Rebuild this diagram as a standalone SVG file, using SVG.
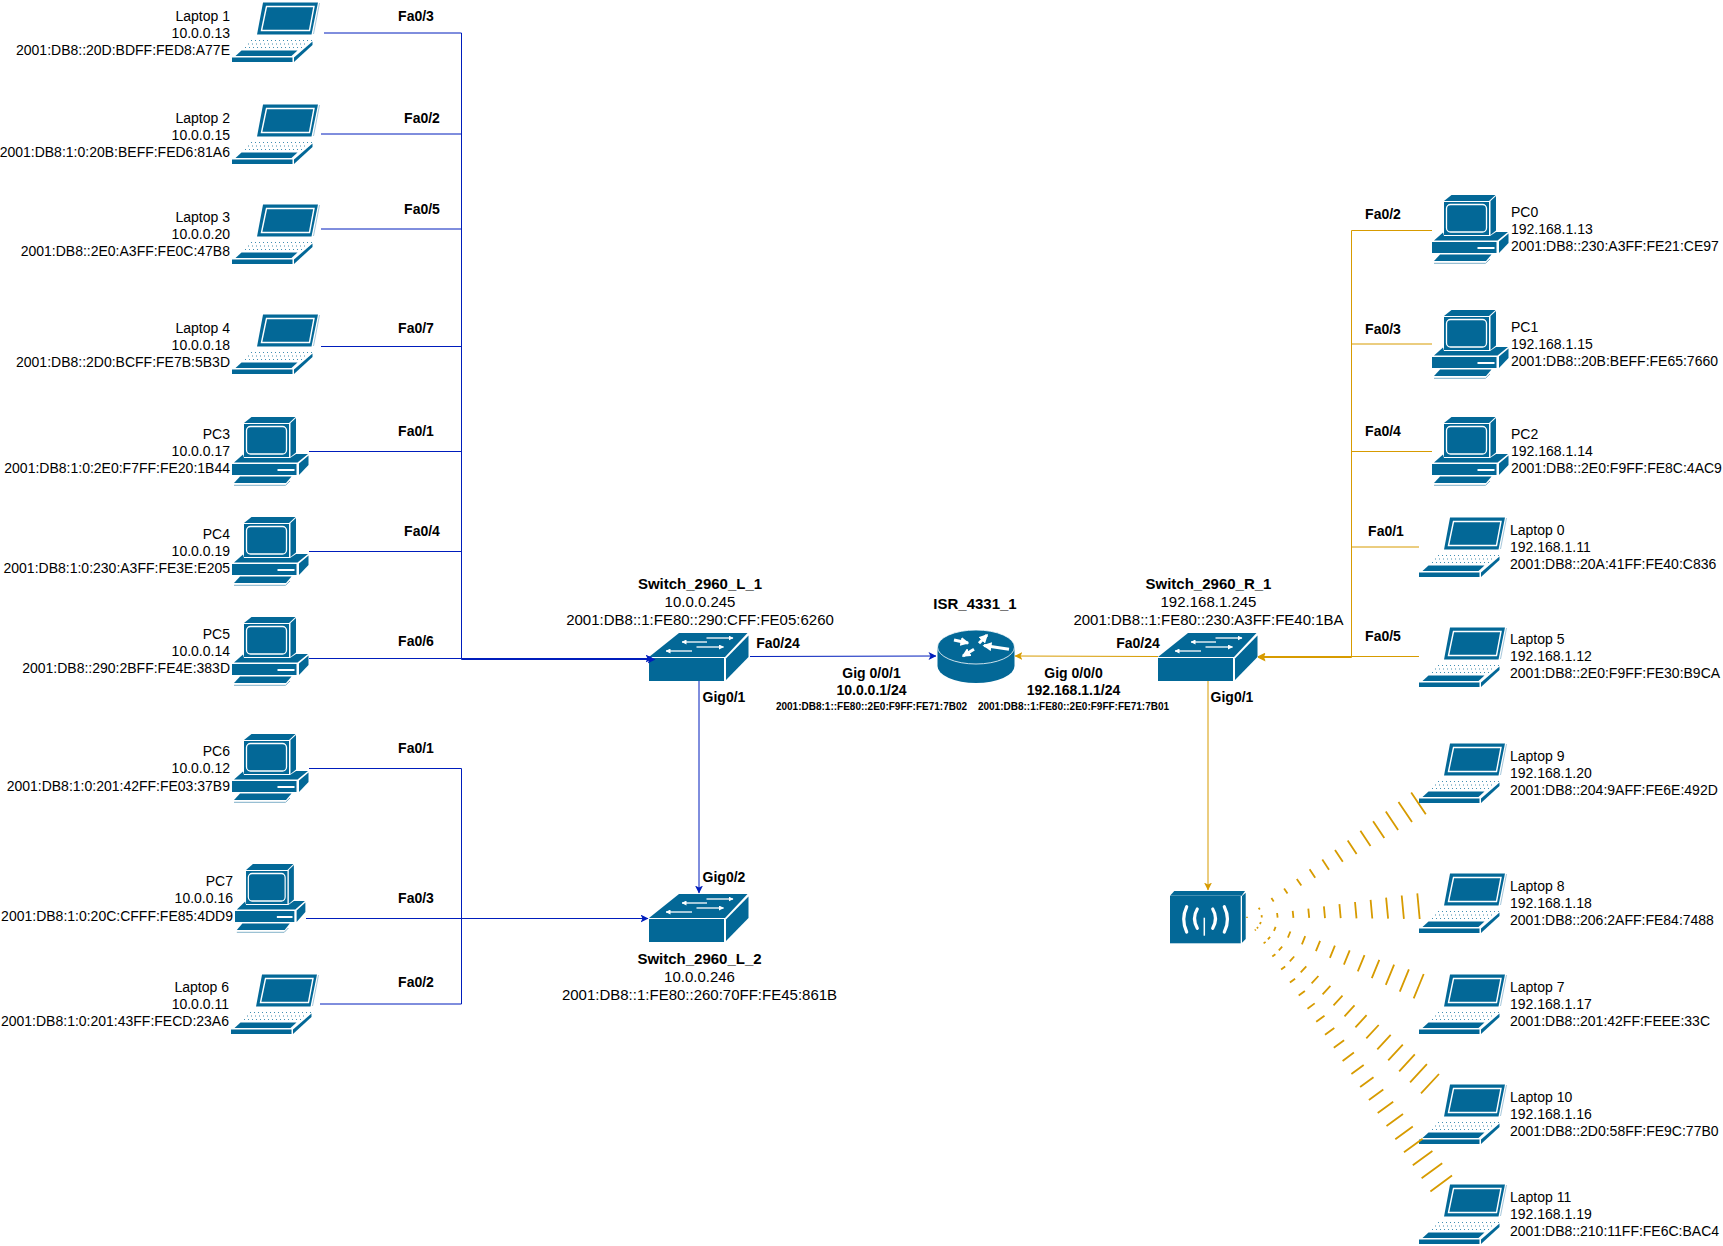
<svg xmlns="http://www.w3.org/2000/svg" width="1723" height="1246" viewBox="0 0 1723 1246">
<style>
text{font-family:"Liberation Sans",Arial,sans-serif;font-size:14px;fill:#000}
.b{font-weight:bold}
.r{text-anchor:end}
.c{text-anchor:middle}
.m{font-size:15px}
.s{font-size:10px}
.blue{fill:none;stroke:#001DBC;stroke-width:1}
.or{fill:none;stroke:#d79b00;stroke-width:1}
.tick{fill:none;stroke:#d79b00;stroke-width:1.8}
.d{fill:#036897}
</style>
<defs>
<marker id="ab" markerUnits="userSpaceOnUse" viewBox="0 0 8 8" markerWidth="8" markerHeight="8" refX="7.5" refY="4" orient="auto"><path d="M0 0L8 4L0 8L2 4Z" fill="#001DBC"/></marker>
<marker id="ao" markerUnits="userSpaceOnUse" viewBox="0 0 8 8" markerWidth="8" markerHeight="8" refX="7.5" refY="4" orient="auto"><path d="M0 0L8 4L0 8L2 4Z" fill="#d79b00"/></marker>
<marker id="aw" markerUnits="userSpaceOnUse" viewBox="0 0 6 6" markerWidth="9" markerHeight="9" refX="5" refY="3" orient="auto"><path d="M0 0L6 3L0 6Z" fill="#fff"/></marker>
<marker id="awl" markerUnits="userSpaceOnUse" viewBox="0 0 5 5" markerWidth="5" markerHeight="5" refX="4.5" refY="2.5" orient="auto"><path d="M0 0L5 2.5L0 5Z" fill="#fff"/></marker>
<g id="laptop">
<path class="d" d="M25 32.5L31 .5L86 .5L79.5 32.5Z"/>
<path d="M29.5 28.5L34.5 4.5L82 4.5L77.5 28.5Z" fill="#036897" stroke="#fff" stroke-width="1.4"/>
<path d="M87.5 1L81.5 32" fill="none" stroke="#8fb9d0" stroke-width=".8"/>
<g fill="none" stroke="#036897" stroke-opacity=".75" stroke-width="1" stroke-dasharray="1 3">
<path d="M19 38.5H80M16 42H76M13 45.500H72"/>
</g>
<path class="d" d="M9.500 48.500H65.500L59.500 54H3.500Z"/>
<rect class="d" x="0" y="55.500" width="60.500" height="4.500"/>
<path class="d" d="M62 55.500L80.500 39.500V43L62 60Z"/>
</g>
<g id="pc">
<path class="d" d="M12 6L19.500 0H63.500L57 6Z"/>
<rect class="d" x="12" y="7" width="45" height="33"/>
<rect x="14.500" y="9.500" width="40" height="27.500" rx="4" fill="#036897" stroke="#fff" stroke-width="1.300"/>
<path class="d" d="M58.500 6L64 1V35.500L58.500 40Z"/>
<path class="d" d="M2 45.500L11 37.500L12 41H58L64 37H76L65.500 45.500Z"/>
<rect class="d" x="0" y="47" width="64.500" height="11"/>
<rect x="45.500" y="52" width="17" height="2" fill="#fff"/>
<path class="d" d="M67 46.500L76.500 38.500V48L67 58Z"/>
<path class="d" d="M8 59.500H59.500L54 66H2Z"/>
<path d="M2 68.300H53.500L58 64" fill="none" stroke="#7fb0c8" stroke-width="1"/>
</g>
<g id="switch">
<path class="d" d="M0 24L30 0H98.500L76 24Z"/>
<rect class="d" x="0" y="25" width="75" height="23"/>
<path class="d" d="M77 25.500L99.500 2.500V24L77 47Z"/>
<g fill="none" stroke="#fff" stroke-width="1.300">
<path d="M57.500 5H84" marker-end="url(#awl)"/>
<path d="M58 9H33" marker-end="url(#awl)"/>
<path d="M47.500 14H74.500" marker-end="url(#awl)"/>
<path d="M43 18H17" marker-end="url(#awl)"/>
</g>
</g>
</defs>
<g id="laptop1"><use href="#laptop" x="232" y="2"/><text class="r" x="230" y="21">Laptop 1</text><text class="r" x="230" y="38">10.0.0.13</text><text class="r" x="230" y="55">2001:DB8::20D:BDFF:FED8:A77E</text></g>
<g id="laptop2"><use href="#laptop" x="232" y="104"/><text class="r" x="230" y="123">Laptop 2</text><text class="r" x="230" y="140">10.0.0.15</text><text class="r" x="230" y="157">2001:DB8:1:0:20B:BEFF:FED6:81A6</text></g>
<g id="laptop3"><use href="#laptop" x="232" y="204"/><text class="r" x="230" y="222">Laptop 3</text><text class="r" x="230" y="239">10.0.0.20</text><text class="r" x="230" y="256">2001:DB8::2E0:A3FF:FE0C:47B8</text></g>
<g id="laptop4"><use href="#laptop" x="232" y="314"/><text class="r" x="230" y="333">Laptop 4</text><text class="r" x="230" y="350">10.0.0.18</text><text class="r" x="230" y="367">2001:DB8::2D0:BCFF:FE7B:5B3D</text></g>
<g id="pc3"><use href="#pc" x="232" y="417"/><text class="r" x="230" y="439">PC3</text><text class="r" x="230" y="456">10.0.0.17</text><text class="r" x="230" y="473">2001:DB8:1:0:2E0:F7FF:FE20:1B44</text></g>
<g id="pc4"><use href="#pc" x="232" y="517"/><text class="r" x="230" y="539">PC4</text><text class="r" x="230" y="556">10.0.0.19</text><text class="r" x="230" y="573">2001:DB8:1:0:230:A3FF:FE3E:E205</text></g>
<g id="pc5"><use href="#pc" x="232" y="617"/><text class="r" x="230" y="639">PC5</text><text class="r" x="230" y="656">10.0.0.14</text><text class="r" x="230" y="673">2001:DB8::290:2BFF:FE4E:383D</text></g>
<g id="pc6"><use href="#pc" x="232" y="734"/><text class="r" x="230" y="756">PC6</text><text class="r" x="230" y="773">10.0.0.12</text><text class="r" x="230" y="791">2001:DB8:1:0:201:42FF:FE03:37B9</text></g>
<g id="pc7"><use href="#pc" transform="translate(235 864) scale(.92 1)"/><text class="r" x="233" y="886">PC7</text><text class="r" x="233" y="903">10.0.0.16</text><text class="r" x="233" y="921">2001:DB8:1:0:20C:CFFF:FE85:4DD9</text></g>
<g id="laptop6"><use href="#laptop" x="231" y="974"/><text class="r" x="229" y="992">Laptop 6</text><text class="r" x="229" y="1009">10.0.0.11</text><text class="r" x="229" y="1026">2001:DB8:1:0:201:43FF:FECD:23A6</text></g>
<g id="pc0"><use href="#pc" x="1432" y="195"/><text x="1511" y="217">PC0</text><text x="1511" y="234">192.168.1.13</text><text x="1511" y="251">2001:DB8::230:A3FF:FE21:CE97</text></g>
<g id="pc1"><use href="#pc" x="1432" y="310"/><text x="1511" y="332">PC1</text><text x="1511" y="349">192.168.1.15</text><text x="1511" y="366">2001:DB8::20B:BEFF:FE65:7660</text></g>
<g id="pc2"><use href="#pc" x="1432" y="417"/><text x="1511" y="439">PC2</text><text x="1511" y="456">192.168.1.14</text><text x="1511" y="473">2001:DB8::2E0:F9FF:FE8C:4AC9</text></g>
<g id="laptop0"><use href="#laptop" x="1419" y="517"/><text x="1510" y="535">Laptop 0</text><text x="1510" y="552">192.168.1.11</text><text x="1510" y="569">2001:DB8::20A:41FF:FE40:C836</text></g>
<g id="laptop5"><use href="#laptop" x="1419" y="627"/><text x="1510" y="644">Laptop 5</text><text x="1510" y="661">192.168.1.12</text><text x="1510" y="678">2001:DB8::2E0:F9FF:FE30:B9CA</text></g>
<g id="laptop9"><use href="#laptop" x="1419" y="743"/><text x="1510" y="761">Laptop 9</text><text x="1510" y="778">192.168.1.20</text><text x="1510" y="795">2001:DB8::204:9AFF:FE6E:492D</text></g>
<g id="laptop8"><use href="#laptop" x="1419" y="873"/><text x="1510" y="891">Laptop 8</text><text x="1510" y="908">192.168.1.18</text><text x="1510" y="925">2001:DB8::206:2AFF:FE84:7488</text></g>
<g id="laptop7"><use href="#laptop" x="1419" y="974"/><text x="1510" y="992">Laptop 7</text><text x="1510" y="1009">192.168.1.17</text><text x="1510" y="1026">2001:DB8::201:42FF:FEEE:33C</text></g>
<g id="laptop10"><use href="#laptop" x="1419" y="1084"/><text x="1510" y="1102">Laptop 10</text><text x="1510" y="1119">192.168.1.16</text><text x="1510" y="1136">2001:DB8::2D0:58FF:FE9C:77B0</text></g>
<g id="laptop11"><use href="#laptop" x="1419" y="1184"/><text x="1510" y="1202">Laptop 11</text><text x="1510" y="1219">192.168.1.19</text><text x="1510" y="1236">2001:DB8::210:11FF:FE6C:BAC4</text></g>
<g id="switch-l1"><use href="#switch" x="649" y="633"/><text class="b c m" x="700" y="589">Switch_2960_L_1</text><text class="c m" x="700" y="607">10.0.0.245</text><text class="c m" x="700" y="625">2001:DB8::1:FE80::290:CFF:FE05:6260</text></g>
<g id="switch-l2"><use href="#switch" x="649" y="894"/><text class="b c m" x="699.500" y="964">Switch_2960_L_2</text><text class="c m" x="699.500" y="982">10.0.0.246</text><text class="c m" x="699.500" y="1000">2001:DB8::1:FE80::260:70FF:FE45:861B</text></g>
<g id="switch-r1"><use href="#switch" x="1158" y="633"/><text class="b c m" x="1208.500" y="589">Switch_2960_R_1</text><text class="c m" x="1208.500" y="607">192.168.1.245</text><text class="c m" x="1208.500" y="625">2001:DB8::1:FE80::230:A3FF:FE40:1BA</text></g>
<g id="router">
<path class="d" d="M937.500 647V666A38.500 17 0 0 0 1014.500 666V647Z"/>
<ellipse cx="976" cy="647" rx="38.500" ry="17" fill="#036897" stroke="#fff" stroke-width=".8"/>
<g fill="none" stroke="#fff" stroke-width="3">
<path d="M954 640L968 643" marker-end="url(#aw)"/>
<path d="M979 643.300L987 635" marker-end="url(#aw)"/>
<path d="M1009 649.300L984 645.500" marker-end="url(#aw)"/>
<path d="M974 649.300L963 656" marker-end="url(#aw)"/>
</g>
<text class="b c m" x="975" y="609">ISR_4331_1</text>
</g>
<g id="access-point">
<path class="d" d="M1170 895.700L1174.300 891H1245L1241.700 895.700Z"/>
<rect class="d" x="1170" y="896" width="70.700" height="47.300"/>
<path class="d" d="M1242 896L1245.700 892.700V939L1242 942.700Z"/>
<g fill="none" stroke="#fff" stroke-width="3.200" stroke-linecap="round">
<path d="M1186.700 906.700Q1180.700 919.300 1186.700 932"/>
<path d="M1197.300 909Q1191.700 918.300 1197.300 928.300"/>
<path d="M1212.700 909Q1218.300 918.300 1212.700 928.300"/>
<path d="M1224.300 906.700Q1230.700 919.300 1224.300 932"/>
</g>
<path d="M1204.300 917.700V935.700" fill="none" stroke="#fff" stroke-width="1.500"/>
</g>
<g id="connectors">
<path class="blue" d="M324 33H461.500V659.500H655" marker-end="url(#ab)"/>
<path class="blue" d="M321 134H461.500"/>
<path class="blue" d="M321 229H461.500"/>
<path class="blue" d="M321 346.500H461.500"/>
<path class="blue" d="M309 451.500H461.500"/>
<path class="blue" d="M309 551.500H461.500"/>
<path class="blue" d="M309 658.500H653" marker-end="url(#ab)"/>
<path class="blue" d="M309 768.500H461.500V1004"/>
<path class="blue" d="M320 1004H461.500"/>
<path class="blue" d="M306 918.500H648" marker-end="url(#ab)"/>
<path class="blue" d="M699 681V893" marker-end="url(#ab)"/>
<path class="blue" d="M750 656.500L936 656" marker-end="url(#ab)"/>
<path class="or" d="M1158 656.500L1015 656" marker-end="url(#ao)"/>
<path class="or" d="M1208 681V890" marker-end="url(#ao)"/>
<path class="or" d="M1432 230.500H1351.500V657.500H1258" marker-end="url(#ao)"/>
<path class="or" d="M1432 344H1351.500"/>
<path class="or" d="M1432 451.500H1351.500"/>
<path class="or" d="M1419 547H1351.500"/>
<path class="or" d="M1419 656.500H1258" marker-end="url(#ao)"/>
<path class="or" d="M1246 917.300H1248"/>
<path class="tick" d="M1259.800 909.400L1258.700 907.700M1273.700 901.400L1271.400 898.100M1287.500 893.500L1284.100 888.500M1301.300 885.600L1296.800 878.900M1315.200 877.700L1309.600 869.300M1329 869.700L1322.300 859.600M1342.800 861.800L1335 850M1356.600 853.900L1347.700 840.400M1370.500 845.900L1360.400 830.800M1384.300 838L1373.100 821.200M1398.100 830.100L1385.800 811.600M1412 822.100L1398.500 802M1425.800 814.200L1411.200 792.400"/>
<path class="tick" d="M1261.800 917.500L1261.600 915.100M1277.600 917.600L1277.100 913M1293.400 917.800L1292.700 910.800M1309.200 917.900L1308.300 908.600M1325 918.100L1323.900 906.400M1340.700 918.200L1339.400 904.200M1356.500 918.400L1355 902M1372.300 918.500L1370.600 899.900M1388.100 918.700L1386.100 897.700M1403.900 918.900L1401.700 895.500M1419.700 919L1417.300 893.300"/>
<path class="tick" d="M1260.800 922L1260 924.100M1275.600 926.800L1274 930.800M1290.400 931.500L1287.900 937.600M1305.200 936.200L1301.900 944.300M1320.100 940.900L1315.900 951.100M1334.900 945.700L1329.900 957.800M1349.700 950.400L1343.900 964.600M1364.500 955.100L1357.800 971.300M1379.300 959.800L1371.800 978.100M1394.100 964.600L1385.800 984.800M1408.900 969.300L1399.800 991.600M1423.700 974L1413.700 998.300"/>
<path class="tick" d="M1258.100 927.100L1256.900 928.300M1270.100 936.900L1267.900 939.300M1282.200 946.700L1278.800 950.300M1294.200 956.500L1289.800 961.300M1306.300 966.300L1300.700 972.300M1318.400 976L1311.600 983.300M1330.400 985.800L1322.600 994.300M1342.500 995.600L1333.500 1005.300M1354.500 1005.400L1344.500 1016.300M1366.600 1015.200L1355.400 1027.300M1378.700 1025L1366.300 1038.300M1390.700 1034.800L1377.300 1049.300M1402.800 1044.600L1388.200 1060.300M1414.800 1054.400L1399.200 1071.300M1426.900 1064.200L1410.100 1082.300M1439 1074L1421 1093.300"/>
<path class="tick" d="M1255.800 929.600L1254.800 930.400M1265.600 941.900L1263.600 943.400M1275.400 954.200L1272.300 956.500M1285.200 966.500L1281.100 969.500M1295.100 978.800L1289.900 982.600M1304.900 991.100L1298.700 995.600M1314.700 1003.400L1307.500 1008.700M1324.500 1015.700L1316.200 1021.700M1334.300 1028L1325 1034.800M1344.100 1040.300L1333.800 1047.800M1353.900 1052.600L1342.600 1060.900M1363.700 1064.900L1351.400 1073.900M1373.500 1077.200L1360.100 1087M1383.300 1089.500L1368.900 1100M1393.200 1101.800L1377.700 1113.100M1403 1114.100L1386.500 1126.100M1412.800 1126.400L1395.300 1139.200M1422.600 1138.700L1404 1152.200M1432.400 1151L1412.800 1165.300M1442.200 1163.300L1421.600 1178.300M1452 1175.600L1430.400 1191.400"/>
</g>
<g id="port-labels">
<text class="b c" x="416" y="21">Fa0/3</text>
<text class="b c" x="422" y="123">Fa0/2</text>
<text class="b c" x="422" y="214">Fa0/5</text>
<text class="b c" x="416" y="332.500">Fa0/7</text>
<text class="b c" x="416" y="436">Fa0/1</text>
<text class="b c" x="422" y="536">Fa0/4</text>
<text class="b c" x="416" y="646">Fa0/6</text>
<text class="b c" x="416" y="753">Fa0/1</text>
<text class="b c" x="416" y="903">Fa0/3</text>
<text class="b c" x="416" y="986.500">Fa0/2</text>
<text class="b c" x="1383" y="219">Fa0/2</text>
<text class="b c" x="1383" y="334">Fa0/3</text>
<text class="b c" x="1383" y="436">Fa0/4</text>
<text class="b c" x="1386" y="536">Fa0/1</text>
<text class="b c" x="1383" y="641">Fa0/5</text>
<text class="b c" x="778" y="648">Fa0/24</text>
<text class="b c" x="1138" y="648">Fa0/24</text>
<text class="b c" x="724" y="702">Gig0/1</text>
<text class="b c" x="724" y="882">Gig0/2</text>
<text class="b c" x="1232" y="702">Gig0/1</text>
<text class="b c" x="871.500" y="678">Gig 0/0/1</text>
<text class="b c" x="871.500" y="695">10.0.0.1/24</text>
<text class="b c s" x="871.500" y="710">2001:DB8:1::FE80::2E0:F9FF:FE71:7B02</text>
<text class="b c" x="1073.500" y="678">Gig 0/0/0</text>
<text class="b c" x="1073.500" y="695">192.168.1.1/24</text>
<text class="b c s" x="1073.500" y="710">2001:DB8::1:FE80::2E0:F9FF:FE71:7B01</text>
</g>
</svg>
